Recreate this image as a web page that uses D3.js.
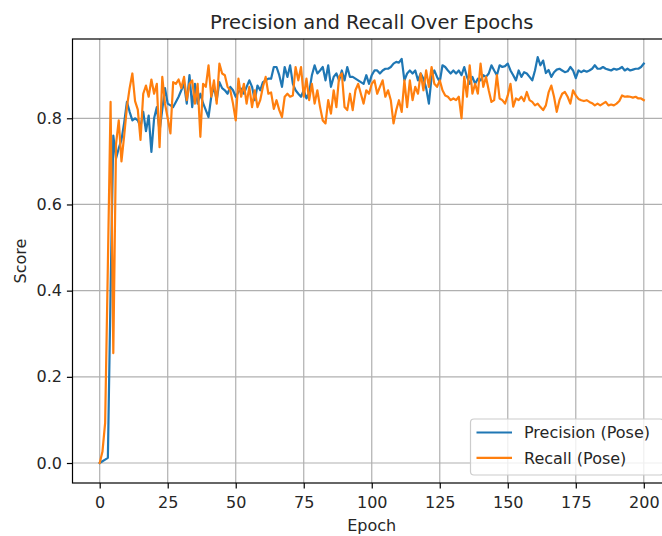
<!DOCTYPE html>
<html>
<head>
<meta charset="utf-8">
<script src="https://cdn.jsdelivr.net/npm/d3@7/dist/d3.min.js"></script>
<style>
  html, body { margin: 0; padding: 0; background: #fff; }
  svg { display: block; font-family: "DejaVu Sans", sans-serif; }
</style>
</head>
<body>
<svg id="chart" width="662" height="536"></svg>
<script>
// Per-epoch scores, epochs 0..200
const precision = [
  0.000, 0.004, 0.008, 0.012, 0.400, 0.760, 0.707, 0.730, 0.750, 0.790,
  0.838, 0.815, 0.795, 0.800, 0.795, 0.780, 0.815, 0.770, 0.806, 0.722,
  0.800, 0.826, 0.770, 0.820, 0.870, 0.834, 0.830, 0.826, 0.838, 0.850,
  0.865, 0.880, 0.834, 0.900, 0.826, 0.880, 0.834, 0.857, 0.835, 0.819,
  0.803, 0.850, 0.873, 0.842, 0.884, 0.870, 0.865, 0.857, 0.873, 0.865,
  0.850, 0.861, 0.869, 0.857, 0.873, 0.888, 0.873, 0.842, 0.876, 0.865,
  0.884, 0.888, 0.892, 0.892, 0.919, 0.919, 0.900, 0.873, 0.919, 0.896,
  0.923, 0.880, 0.865, 0.857, 0.850, 0.865, 0.846, 0.860, 0.900, 0.923,
  0.904, 0.911, 0.919, 0.888, 0.923, 0.873, 0.896, 0.904, 0.888, 0.911,
  0.888, 0.919, 0.896, 0.896, 0.892, 0.888, 0.884, 0.880, 0.900, 0.880,
  0.900, 0.911, 0.911, 0.904, 0.911, 0.915, 0.915, 0.919, 0.927, 0.931,
  0.929, 0.938, 0.888, 0.904, 0.911, 0.904, 0.911, 0.888, 0.904, 0.892,
  0.870, 0.834, 0.896, 0.911, 0.896, 0.884, 0.923, 0.919, 0.911, 0.904,
  0.911, 0.904, 0.911, 0.900, 0.919, 0.896, 0.880, 0.896, 0.880, 0.892,
  0.888, 0.900, 0.896, 0.904, 0.923, 0.911, 0.900, 0.923, 0.919, 0.921,
  0.927, 0.911, 0.900, 0.888, 0.911, 0.896, 0.907, 0.904, 0.896, 0.888,
  0.911, 0.942, 0.923, 0.934, 0.905, 0.912, 0.896, 0.907, 0.913, 0.915,
  0.911, 0.907, 0.909, 0.919, 0.911, 0.893, 0.911, 0.907, 0.911, 0.908,
  0.911, 0.915, 0.923, 0.915, 0.915, 0.919, 0.915, 0.913, 0.911, 0.915,
  0.913, 0.915, 0.919, 0.911, 0.915, 0.911, 0.913, 0.915, 0.915, 0.919,
  0.927
];

const recall = [
  0.000, 0.026, 0.093, 0.460, 0.838, 0.255, 0.740, 0.795, 0.700, 0.760,
  0.826, 0.870, 0.904, 0.840, 0.820, 0.750, 0.857, 0.876, 0.850, 0.890,
  0.857, 0.880, 0.733, 0.896, 0.834, 0.800, 0.765, 0.884, 0.880, 0.890,
  0.870, 0.896, 0.842, 0.880, 0.888, 0.834, 0.880, 0.757, 0.880, 0.873,
  0.923, 0.850, 0.888, 0.834, 0.927, 0.904, 0.900, 0.873, 0.865, 0.834,
  0.795, 0.892, 0.850, 0.880, 0.834, 0.873, 0.826, 0.865, 0.826, 0.842,
  0.873, 0.896, 0.857, 0.860, 0.822, 0.842, 0.819, 0.803, 0.850, 0.857,
  0.850, 0.853, 0.919, 0.888, 0.919, 0.850, 0.892, 0.842, 0.880, 0.834,
  0.865, 0.826, 0.795, 0.788, 0.842, 0.811, 0.865, 0.826, 0.896, 0.904,
  0.826, 0.819, 0.857, 0.819, 0.865, 0.880, 0.857, 0.834, 0.865, 0.857,
  0.880, 0.888, 0.857, 0.873, 0.888, 0.850, 0.865, 0.842, 0.788, 0.819,
  0.842, 0.815, 0.888, 0.826, 0.888, 0.842, 0.873, 0.857, 0.904, 0.865,
  0.911, 0.873, 0.919, 0.880, 0.873, 0.888, 0.865, 0.853, 0.850, 0.842,
  0.846, 0.842, 0.850, 0.800, 0.896, 0.850, 0.923, 0.857, 0.880, 0.857,
  0.927, 0.873, 0.896, 0.865, 0.838, 0.842, 0.900, 0.846, 0.842, 0.834,
  0.853, 0.880, 0.827, 0.846, 0.842, 0.850, 0.840, 0.861, 0.842, 0.838,
  0.830, 0.834, 0.826, 0.819, 0.830, 0.860, 0.876, 0.850, 0.815, 0.842,
  0.857, 0.861, 0.850, 0.834, 0.865, 0.853, 0.845, 0.842, 0.840, 0.842,
  0.838, 0.835, 0.830, 0.834, 0.830, 0.834, 0.838, 0.830, 0.832, 0.830,
  0.834, 0.840, 0.853, 0.850, 0.851, 0.850, 0.848, 0.850, 0.846, 0.846,
  0.842
];

const epochs = d3.range(precision.length);
const xTicks = [0, 25, 50, 75, 100, 125, 150, 175, 200];
const yTicks = [0.0, 0.2, 0.4, 0.6, 0.8];
const seriesNames = ["Precision (Pose)", "Recall (Pose)"];
const seriesColors = ["#1f77b4", "#ff7f0e"];

const svg = d3.select("#chart");
const plotLeft = 72.5, plotTop = 39, plotBottom = 483, plotRight = 671;
const textColor = "#262626";
const labelSize = 16, titleSize = 19.5;

const x = d3.scaleLinear().domain([-10, 210]).range([plotLeft, plotRight]);
const y = d3.scaleLinear().domain([-0.0464, 0.984]).range([plotBottom, plotTop]);

// grid
const grid = svg.append("g");
grid.selectAll(".gx").data(xTicks).join("line")
  .attr("x1", d => x(d)).attr("x2", d => x(d))
  .attr("y1", plotTop).attr("y2", plotBottom)
  .attr("stroke", "#b0b0b0").attr("stroke-width", 1.2);
grid.selectAll(".gy").data(yTicks).join("line")
  .attr("x1", plotLeft).attr("x2", plotRight)
  .attr("y1", d => y(d)).attr("y2", d => y(d))
  .attr("stroke", "#b0b0b0").attr("stroke-width", 1.2);

// series lines
const line = d3.line().x((d, i) => x(epochs[i])).y(d => y(d));
[precision, recall].forEach((s, k) => {
  svg.append("path").datum(s)
    .attr("d", line)
    .attr("fill", "none")
    .attr("stroke", seriesColors[k])
    .attr("stroke-width", 2.2)
    .attr("stroke-linejoin", "round")
    .attr("stroke-linecap", "square");
});

// axes
const xAxis = d3.axisBottom(x).tickValues(xTicks).tickFormat(d3.format("d"))
  .tickSizeInner(5.6).tickSizeOuter(0).tickPadding(8);
const yAxis = d3.axisLeft(y).tickValues(yTicks).tickFormat(d3.format(".1f"))
  .tickSizeInner(5.6).tickSizeOuter(0).tickPadding(5);

const gx = svg.append("g").attr("transform", `translate(0,${plotBottom})`).call(xAxis);
const gy = svg.append("g").attr("transform", `translate(${plotLeft},0)`).call(yAxis);
[gx, gy].forEach(g => {
  g.select(".domain").remove();
  g.selectAll(".tick line").attr("stroke", "#000").attr("stroke-width", 1.2);
  g.selectAll(".tick text").attr("fill", textColor)
    .style("font-family", "DejaVu Sans").style("font-size", labelSize + "px");
});

// frame
svg.append("rect")
  .attr("x", plotLeft).attr("y", plotTop)
  .attr("width", plotRight - plotLeft).attr("height", plotBottom - plotTop)
  .attr("fill", "none").attr("stroke", "#000").attr("stroke-width", 1.2);

// labels
svg.append("text").attr("x", (plotLeft + plotRight) / 2).attr("y", 29)
  .attr("text-anchor", "middle").attr("font-size", titleSize).attr("fill", textColor)
  .text("Precision and Recall Over Epochs");
svg.append("text").attr("x", (plotLeft + plotRight) / 2).attr("y", 531)
  .attr("text-anchor", "middle").attr("font-size", labelSize).attr("fill", textColor)
  .text("Epoch");
svg.append("text")
  .attr("transform", `translate(26,${(plotTop + plotBottom) / 2}) rotate(-90)`)
  .attr("text-anchor", "middle").attr("font-size", labelSize).attr("fill", textColor)
  .text("Score");

// legend
const lg = svg.append("g");
lg.append("rect")
  .attr("x", 470.5).attr("y", 419).attr("width", 193).attr("height", 56)
  .attr("rx", 3.5).attr("fill", "#fff").attr("fill-opacity", 0.8)
  .attr("stroke", "#cccccc").attr("stroke-width", 1.2);
seriesNames.forEach((name, i) => {
  const yy = 432.5 + i * 25.3;
  lg.append("line").attr("x1", 476.5).attr("x2", 512)
    .attr("y1", yy).attr("y2", yy)
    .attr("stroke", seriesColors[i]).attr("stroke-width", 2.2);
  lg.append("text").attr("x", 524).attr("y", yy).attr("dy", "0.36em")
    .attr("font-size", labelSize).attr("fill", textColor).text(name);
});
</script>
</body>
</html>
